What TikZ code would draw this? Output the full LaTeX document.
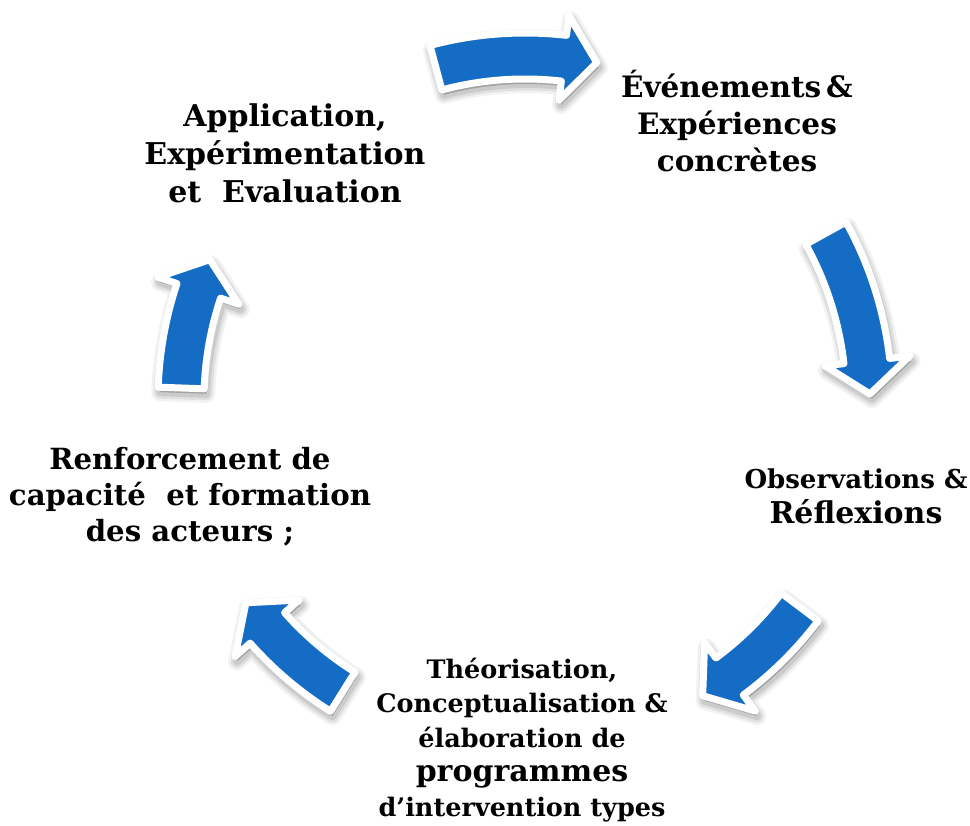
\documentclass[tikz,border=0pt]{standalone}
\usepackage{fontspec}
\setmainfont{DejaVu Serif}
\definecolor{arrowblue}{RGB}{20,108,196}
\newcommand{\cycarrow}[2]{%
  \pgfmathsetmacro\hb{#2+5.5}%
  \foreach \lw/\op in {18/0.05,13/0.07,8/0.09}{%
    \path[draw=black, fill=black, line width=\lw, draw opacity=\op, fill opacity=\op, line join=round, shift={(2,-5)}]
      (#1:367) arc[start angle=#1,end angle=\hb,radius=367] -- (\hb:387) -- (#2:345) -- (\hb:302) -- (\hb:321)
      arc[start angle=\hb,end angle=#1,radius=321] -- cycle;
  }%
  \path[arrowbody]
    (#1:367) arc[start angle=#1,end angle=\hb,radius=367] -- (\hb:387) -- (#2:345) -- (\hb:302) -- (\hb:321)
    arc[start angle=\hb,end angle=#1,radius=321] -- cycle;
}
\begin{document}
\begin{tikzpicture}[x=1pt,y=1pt,
  lbl/.style={align=center,font=\bfseries\fontsize{29.5}{37}\selectfont,inner sep=0pt},
  arrowbody/.style={fill=arrowblue,draw=white,line width=7,line join=round}]
\useasboundingbox[fill=white] (0,0) rectangle (970,826);
\begin{scope}[shift={(525,426)}]
  \cycarrow{105}{78}
  \cycarrow{29}{1}
  \cycarrow{-37}{-59}
  \cycarrow{-122}{-144}
  \cycarrow{178}{156}
\end{scope}
\node[lbl, font=\bfseries\fontsize{30}{38}\selectfont] (app) at (285,673) {Application,\\Expérimentation\\et~ Evaluation};
\node[lbl] (evt) at (737,705) {Événements\,\&\\Expériences\\concrètes};
\node[lbl, font=\bfseries\fontsize{30}{35}\selectfont] (obs) at (856,330) {{\fontsize{26}{35}\selectfont Observations \&}\\Réflexions};
\node[lbl, font=\bfseries\fontsize{25.5}{34.5}\selectfont] (theo) at (522,86) {Théorisation,\\Conceptualisation \&\\élaboration de\\{\fontsize{30}{35}\selectfont programmes}\\d’intervention types};
\node[lbl, font=\bfseries\fontsize{29.2}{36}\selectfont] (ren) at (190,329) {Renforcement de\\capacité~ et formation\\des acteurs ;};
\end{tikzpicture}
\end{document}
